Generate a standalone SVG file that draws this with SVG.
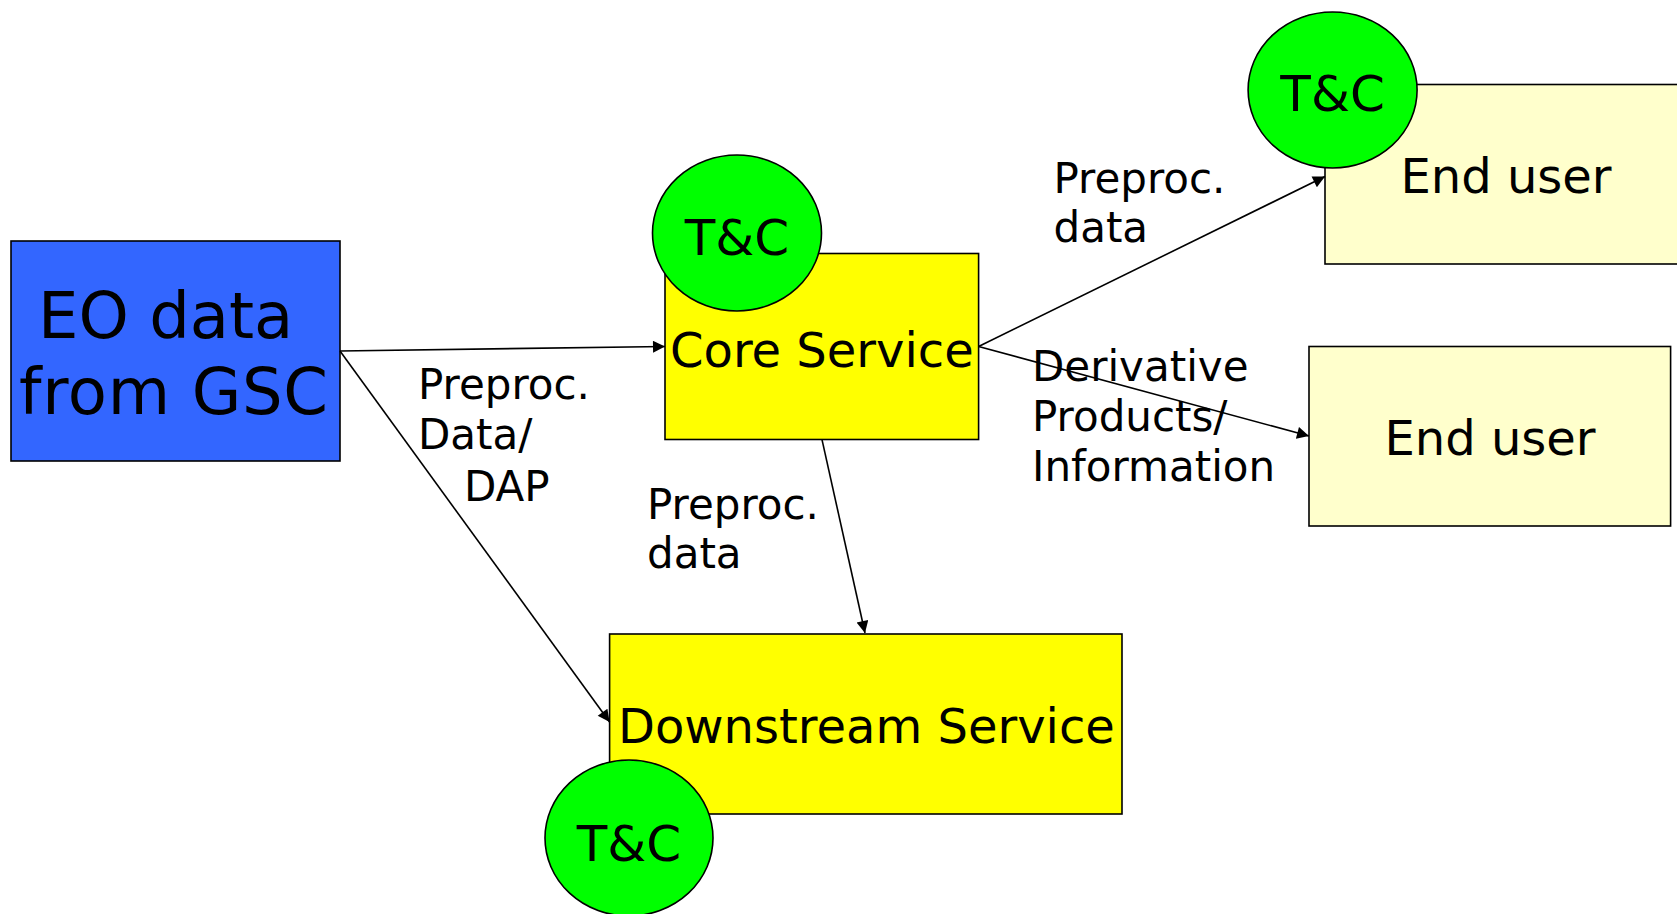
<svg xmlns="http://www.w3.org/2000/svg" width="1677" height="914" viewBox="0 0 1677 914">
<style>
text{font-family:"DejaVu Sans","Verdana",sans-serif;fill:#000}
.box{stroke:#000;stroke-width:1.6}
.tc{fill:#00FF00;stroke:#000;stroke-width:1.6}
.tct{font-size:50px;text-anchor:middle}
.lbl{font-size:42px}
.conn line{stroke:#000;stroke-width:1.6;marker-end:url(#arr)}
</style>
<defs>
<marker id="arr" viewBox="0 0 10 10" refX="10" refY="5" markerWidth="17" markerHeight="12" markerUnits="userSpaceOnUse" orient="auto">
<path d="M0,0 L10,5 L0,10 z" fill="#000"/>
</marker>
</defs>
<rect width="1677" height="914" fill="#fff"/>
<g id="eo">
<rect class="box" x="11" y="241" width="329" height="220" fill="#3366FF"/>
<text x="38" y="338" font-size="64">EO data</text>
<text x="19" y="414" font-size="64" textLength="309" lengthAdjust="spacing">from GSC</text>
</g>
<g id="enduser1">
<rect class="box" x="1325" y="84.5" width="362" height="179.5" fill="#FFFFCC"/>
<text x="1506" y="192.5" font-size="48" text-anchor="middle">End user</text>
</g>
<g id="enduser2">
<rect class="box" x="1309" y="346.5" width="361.6" height="179.5" fill="#FFFFCC"/>
<text x="1490" y="454.5" font-size="48" text-anchor="middle">End user</text>
</g>
<g id="core">
<rect class="box" x="665" y="253.5" width="313.6" height="186" fill="#FFFF00"/>
<text x="670" y="367" font-size="48">Core Service</text>
</g>
<g id="downstream">
<rect class="box" x="609.6" y="634" width="512.4" height="180" fill="#FFFF00"/>
<text x="618" y="743" font-size="48">Downstream Service</text>
</g>
<g id="connectors" class="conn">
<line x1="340" y1="351" x2="665" y2="346.5"/>
<line x1="340" y1="351" x2="609.6" y2="722"/>
<line x1="822" y1="439.6" x2="865" y2="633"/>
<line x1="978.6" y1="346.5" x2="1325" y2="176.5"/>
<line x1="978.6" y1="346.5" x2="1309" y2="436"/>
</g>
<g id="labels" class="lbl">
<text class="lbl" x="418" y="399">Preproc.</text>
<text class="lbl" x="418" y="449">Data/</text>
<text class="lbl" x="464" y="500.5">DAP</text>
<text class="lbl" x="1053.5" y="192.5">Preproc.</text>
<text class="lbl" x="1053.5" y="242">data</text>
<text class="lbl" x="1032" y="381">Derivative</text>
<text class="lbl" x="1032" y="431">Products/</text>
<text class="lbl" x="1032" y="481">Information</text>
<text class="lbl" x="647" y="518.7">Preproc.</text>
<text class="lbl" x="647" y="568">data</text>
</g>
<g id="tc-core">
<ellipse class="tc" cx="737" cy="233" rx="84.5" ry="78"/>
<text class="tct" x="737" y="254.5">T&amp;C</text>
</g>
<g id="tc-enduser">
<ellipse class="tc" cx="1332.6" cy="90" rx="84.5" ry="78"/>
<text class="tct" x="1332.6" y="111">T&amp;C</text>
</g>
<g id="tc-downstream">
<ellipse class="tc" cx="629" cy="838" rx="84" ry="78"/>
<text class="tct" x="629" y="861">T&amp;C</text>
</g>
</svg>
